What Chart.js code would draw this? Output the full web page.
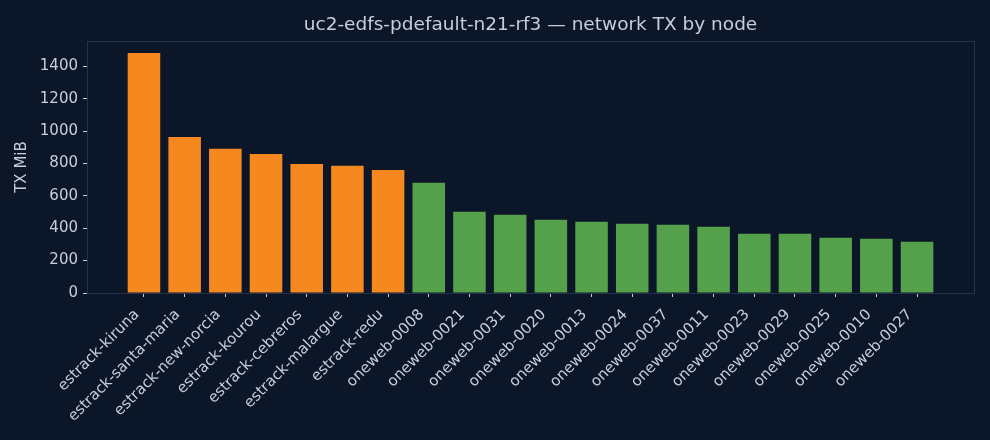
<!DOCTYPE html>
<html>
<head>
<meta charset="utf-8">
<script src="https://cdn.jsdelivr.net/npm/chart.js@4"></script>
<style>
  html, body { margin: 0; padding: 0; background: #0b1628; }
  #wrap { width: 990px; height: 440px; }
</style>
</head>
<body>
<div id="wrap"><canvas id="tx-graph"></canvas></div>
<script>
const nodes = [
  "estrack-kiruna", "estrack-santa-maria", "estrack-new-norcia", "estrack-kourou",
  "estrack-cebreros", "estrack-malargue", "estrack-redu",
  "oneweb-0008", "oneweb-0021", "oneweb-0031", "oneweb-0020", "oneweb-0013",
  "oneweb-0024", "oneweb-0037", "oneweb-0011", "oneweb-0023", "oneweb-0029",
  "oneweb-0025", "oneweb-0010", "oneweb-0027",
];
const txMiB = [
  1482, 964, 890, 859, 797, 785, 760,
  680, 501, 483, 452, 440, 427, 421, 409, 366, 366, 341, 335, 316,
];
const yTicks = [0, 200, 400, 600, 800, 1000, 1200, 1400];

const bg = "#0b1628";
const textColor = "#c5cedb";
const frameColor = "#23324a";
const orange = "#f5881e";
const green = "#54a04b";

const fontFamily = "'DejaVu Sans', sans-serif";

// estrack ground stations in orange, oneweb satellites in green
const barColors = nodes.map((n) => (n.startsWith("estrack") ? orange : green));

// draws background and the box round the axes
const framePlugin = {
  id: "frame",
  beforeDraw(chart) {
    const { ctx } = chart;
    ctx.save();
    ctx.fillStyle = bg;
    ctx.fillRect(0, 0, chart.width, chart.height);
    ctx.restore();
  },
  afterDraw(chart) {
    const { ctx, chartArea: a } = chart;
    ctx.save();
    ctx.strokeStyle = frameColor;
    ctx.lineWidth = 1;
    ctx.strokeRect(a.left + 0.5, a.top + 0.5, a.right - a.left, a.bottom - a.top);
    ctx.restore();
  },
};

const ctx = document.getElementById("tx-graph");

new Chart(ctx, {
  type: "bar",
  data: {
    datasets: [
      {
        label: "TX MiB",
        data: txMiB.map((v, i) => ({ x: i, y: v })),
        backgroundColor: barColors,
        borderWidth: 0,
        categoryPercentage: 1,
        barPercentage: 0.8,
      },
    ],
  },
  options: {
    responsive: true,
    maintainAspectRatio: false,
    animation: false,
    layout: { padding: { left: 0, right: 16, top: 0, bottom: 0 } },
    plugins: {
      legend: { display: false },
      tooltip: { enabled: false },
      title: {
        display: true,
        fullSize: false,
        text: "uc2-edfs-pdefault-n21-rf3 — network TX by node",
        color: textColor,
        font: { family: fontFamily, size: 18.5, weight: "normal" },
        padding: { top: 14, bottom: 4.8 },
      },
    },
    scales: {
      x: {
        type: "linear",
        min: -1.4,
        max: nodes.length - 1 + 1.4,
        offset: false,
        afterBuildTicks: (scale) => {
          scale.ticks = nodes.map((_, i) => ({ value: i }));
        },
        afterFit: (scale) => {
          scale.height = 147;
        },
        ticks: {
          color: textColor,
          font: { family: fontFamily, size: 15 },
          autoSkip: false,
          maxRotation: 45,
          minRotation: 45,
          padding: 9,
          labelOffset: -7,
          callback: (v) => nodes[v],
        },
        grid: {
          offset: false,
          drawOnChartArea: false,
          drawTicks: true,
          tickLength: 4,
          color: textColor,
        },
        border: { color: frameColor },
      },
      y: {
        min: 0,
        max: 1556,
        afterBuildTicks: (scale) => {
          scale.ticks = yTicks.map((v) => ({ value: v }));
        },
        afterFit: (scale) => {
          scale.width = 87;
        },
        ticks: {
          color: textColor,
          font: { family: fontFamily, size: 15 },
          padding: 5,
          callback: (v) => String(v),
        },
        grid: { drawOnChartArea: false, drawTicks: true, tickLength: 4, color: textColor },
        border: { color: frameColor },
        title: {
          display: true,
          text: "TX MiB",
          color: textColor,
          font: { family: fontFamily, size: 15 },
          padding: { top: 13, bottom: 0 },
        },
      },
    },
  },
  plugins: [framePlugin],
});
</script>
</body>
</html>
